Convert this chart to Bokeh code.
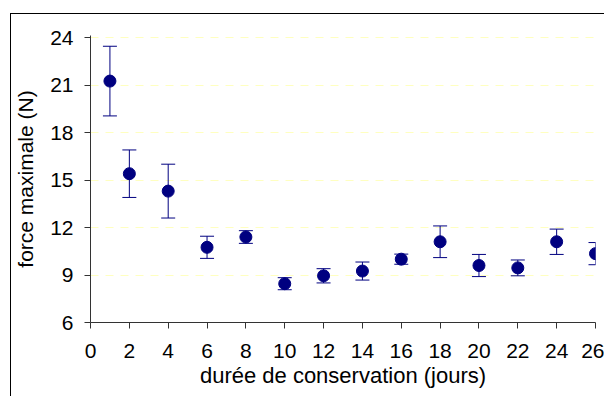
from bokeh.plotting import figure
from bokeh.models import ColumnDataSource, Whisker, TeeHead, FixedTicker, Range1d
from bokeh.embed import file_html
from bokeh.resources import INLINE

# storage duration (days) and maximal force (N) with standard deviation
jours = [1, 2, 4, 6, 8, 10, 12, 14, 16, 18, 20, 22, 24, 26]
force = [21.25, 15.4, 14.3, 10.75, 11.4, 8.45, 8.95, 9.25, 10.0, 11.1, 9.6, 9.45, 11.1, 10.35]
ecart = [2.2, 1.5, 1.7, 0.7, 0.4, 0.38, 0.45, 0.57, 0.32, 1.0, 0.7, 0.5, 0.8, 0.7]

x_ticks = list(range(0, 27, 2))
y_ticks = [6, 9, 12, 15, 18, 21, 24]

FONT = "Liberation Sans"
NAVY = "#000080"

src = ColumnDataSource(dict(
    x=jours, y=force,
    lower=[f - e for f, e in zip(force, ecart)],
    upper=[f + e for f, e in zip(force, ecart)],
))

# a little headroom above 24 so its dashed gridline is not clipped
p = figure(width=594, height=383, output_backend="svg", toolbar_location=None,
           x_range=Range1d(0, 26), y_range=Range1d(6, 24.13),
           min_border_left=78, min_border_right=10, min_border_top=21, min_border_bottom=75)
p.styles = {"margin-left": "10px", "margin-top": "13px",
            "border-left": "1px solid #000", "border-top": "1px solid #000"}
p.outline_line_color = None
p.background_fill_color = "white"
p.border_fill_color = "white"

p.xgrid.visible = False
p.ygrid.grid_line_color = "#FFFFC0"
p.ygrid.grid_line_dash = "8 7"
p.ygrid.grid_line_width = 1

for ax in (p.xaxis[0], p.yaxis[0]):
    ax.axis_line_color = "#333333"
    ax.major_tick_line_color = "#333333"
    ax.major_tick_out = 6
    ax.major_tick_in = 0
    ax.minor_tick_line_color = None
    ax.major_label_text_font = FONT
    ax.major_label_text_font_size = "21px"
    ax.major_label_text_color = "black"
    ax.axis_label_text_font = FONT
    ax.axis_label_text_font_style = "normal"
    ax.axis_label_text_color = "black"

p.xaxis.axis_label_text_font_size = "22px"
p.yaxis.axis_label_text_font_size = "21px"
p.xaxis.ticker = FixedTicker(ticks=x_ticks)
p.yaxis.ticker = FixedTicker(ticks=y_ticks)
p.xaxis.axis_label = "durée de conservation (jours)"
p.yaxis.axis_label = "force maximale (N)"
p.xaxis.major_label_standoff = 15
p.yaxis.major_label_standoff = 11
p.xaxis.axis_label_standoff = 2
p.yaxis.axis_label_standoff = 10

head = dict(size=14, line_color=NAVY, line_width=1)
p.add_layout(Whisker(source=src, base="x", lower="lower", upper="upper",
                     line_color=NAVY, line_width=1,
                     upper_head=TeeHead(**head), lower_head=TeeHead(**head)))
p.scatter("x", "y", source=src, size=12, fill_color=NAVY, line_color=NAVY)

open("out.html", "w").write(file_html(p, INLINE))
